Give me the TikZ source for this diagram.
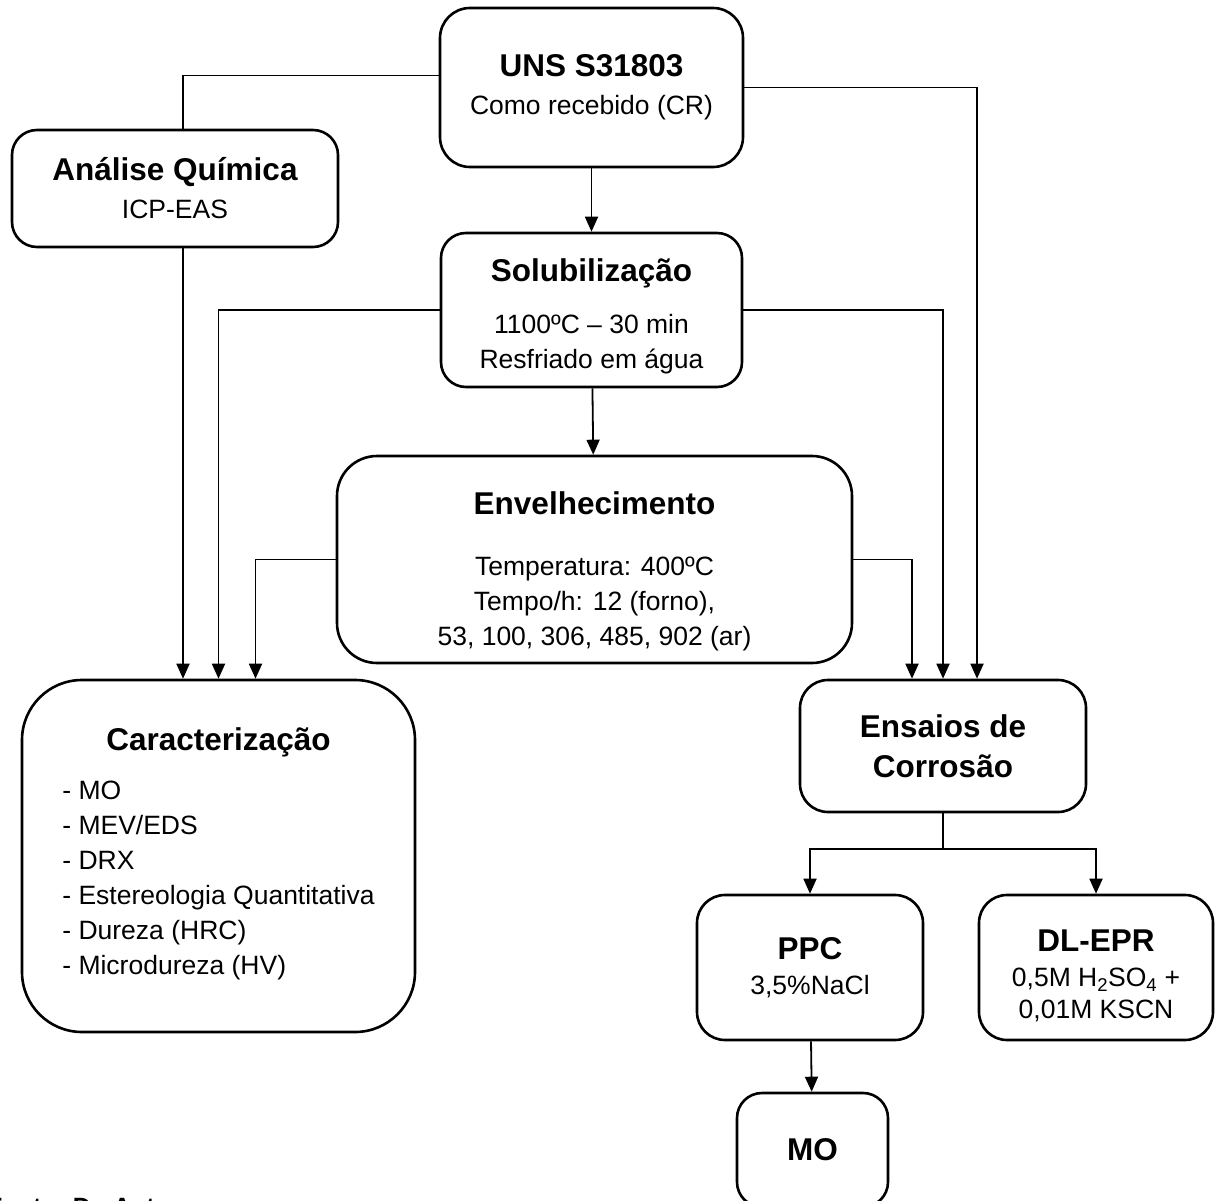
\documentclass[tikz,border=0pt]{standalone}
\usepackage{fontspec}
\setmainfont{Liberation Sans}
\usetikzlibrary{arrows.meta}
\tikzstyle{box} = [draw, rectangle, line width=2.6pt, rounded corners=28pt, align=center, inner sep=0pt, font=\fontsize{26.5}{35}\selectfont]
\tikzstyle{arrow} = [-{Triangle[length=15pt,width=13pt]}, line width=1.8pt]
\tikzstyle{line} = [-, line width=1.8pt]
\newcommand{\ttl}{\bfseries\fontsize{31.5}{38}\selectfont}

\begin{document}
\begin{tikzpicture}[x=1pt, y=-1pt]

    \useasboundingbox (0, 0) rectangle (1218, 1201);

    % boxes
    \node[box, rounded corners=30pt, minimum width=303pt, minimum height=159pt] (uns) at (591.5, 87.5)
        {{\ttl UNS S31803}\\[3pt] Como recebido (CR)};
    \node[box, rounded corners=25pt, minimum width=326pt, minimum height=117pt] (ana) at (175, 188.5)
        {{\ttl Análise Química}\\[3pt] ICP-EAS};
    \node[box, rounded corners=25pt, minimum width=301pt, minimum height=154pt] (sol) at (591.5, 310)
        {{\ttl\rule{0pt}{35pt}Solubilização}\\[17pt] 1100ºC – 30 min\\ Resfriado em água};
    \node[box, rounded corners=40pt, minimum width=515pt, minimum height=207pt] (env) at (594.5, 559.5)
        {{\ttl\rule{0pt}{47pt}Envelhecimento}\\[26pt] Temperatura: 400ºC\\ Tempo/h: 12 (forno),\\ 53, 100, 306, 485, 902 (ar)};
    \node[box, rounded corners=60pt, minimum width=393pt, minimum height=352pt] (car) at (218.5, 856)
        {{\ttl Caracterização}\\[14pt]
         \begin{tabular}[t]{@{}l@{}}
         - MO\\ - MEV/EDS\\ - DRX\\ - Estereologia Quantitativa\\ - Dureza (HRC)\\ - Microdureza (HV)
         \end{tabular}};
    \node[box, font=\bfseries\fontsize{31.5}{40}\selectfont, minimum width=286pt, minimum height=132pt] (ens) at (943, 746)
        {Ensaios de\\ Corrosão};
    \node[box, minimum width=226pt, minimum height=145pt] (ppc) at (810, 967.5)
        {{\ttl PPC}\\ 3,5\%NaCl};
    \node[box, minimum width=234pt, minimum height=145pt] (dl) at (1096, 967.5)
        {{\ttl\rule{0pt}{39pt}DL-EPR}\\ 0,5M H\textsubscript{2}SO\textsubscript{4} +\\[-3pt] 0,01M KSCN};
    \node[box, rounded corners=25pt, minimum width=151pt, minimum height=114pt] (mo) at (812.5, 1150)
        {{\ttl MO}};

    \node[font=\bfseries\fontsize{25}{30}\selectfont, anchor=base west, inner sep=0pt] (src) at (-13, 1215) {Fonte: Do Autor};

    % connectors
    \draw [line] ([yshift=12pt]uns.west) -| ([xshift=8pt]ana.north);
    \draw [arrow] ([xshift=8pt]ana.south) -- ([xshift=8pt]ana.south |- car.north);
    \draw [arrow] (uns) -- (sol);
    \draw [arrow] (uns.east) -| ([xshift=34pt]ens.north);
    \draw [arrow] (sol.west) -| (car.north);
    \draw [arrow] (sol.east) -| (ens.north);
    \draw [arrow] (sol) -- (env);
    \draw [arrow] (env.west) -| ([xshift=37pt]car.north);
    \draw [arrow] (env.east) -| ([xshift=-31pt]ens.north);

    \draw [line] (ens.south) -- ++(0, 36) coordinate (split);
    \draw [arrow] (split) -| (ppc.north);
    \draw [arrow] (split) -| (dl.north);
    \draw [arrow] (ppc) -- (mo);

\end{tikzpicture}
\end{document}
